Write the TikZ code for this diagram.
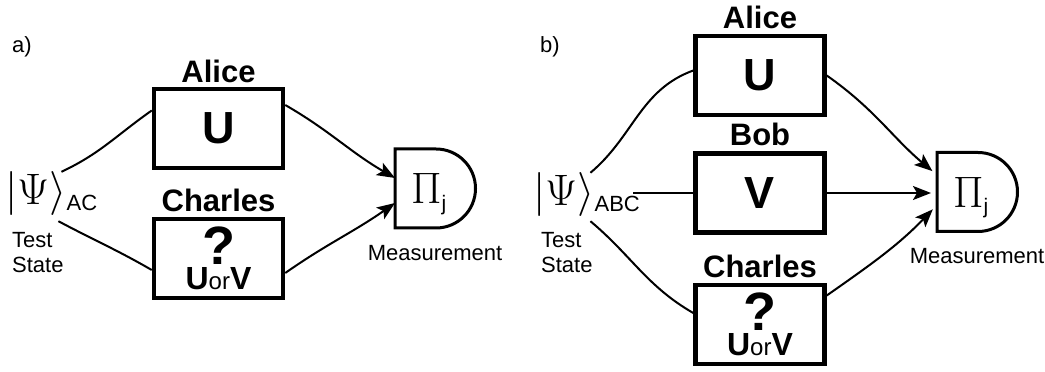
\RequirePackage{fix-cm}
\documentclass[tikz,border=0pt]{standalone}
\usepackage{amsmath}
\usepackage{fontspec}
\setsansfont{Liberation Sans}
\renewcommand{\familydefault}{\sfdefault}
\usetikzlibrary{arrows.meta,positioning,calc}

\begin{document}
\begin{tikzpicture}[x=1pt,y=1pt,
	party/.style={draw,line width=4.5pt,minimum width=129pt,minimum height=79pt,inner sep=0pt,font=\bfseries\fontsize{45}{45}\selectfont},
	unknown/.style={party,align=center,font=\bfseries\fontsize{32}{25}\selectfont},
	who/.style={inner sep=0pt,font=\bfseries\fontsize{31}{31}\selectfont},
	detector/.style={minimum width=80pt,minimum height=79pt,inner sep=0pt,outer sep=0pt,text depth=0pt,font=\fontsize{44}{44}\selectfont},
	ket/.style={inner sep=0pt,font=\fontsize{44}{44}\selectfont},
	small/.style={inner sep=0pt,font=\fontsize{22}{25}\selectfont},
	wire/.style={line width=2pt},
	feed/.style={wire,-{Stealth[length=18pt,width=14pt,inset=4pt]}}]
\useasboundingbox (0,0) rectangle (1045,372);
% a) two parties
\node[small,anchor=base west] (tagA) at (12,319) {a)};
\node[party] (alA) at (218.5,243.5) {U};
\node[who,above=4pt of alA] (nameAlA) {Alice};
\node[unknown] (chA) at (218.5,113.5) {{\fontsize{54}{54}\selectfont ?}\\U{\mdseries\fontsize{24}{24}\selectfont or}V};
\node[who,above=5pt of chA] (nameChA) {Charles};
\node[ket,anchor=base west] (ketA) at (5,167) {$|\Psi\rangle$};
\node[small,anchor=base west] (subA) at ([yshift=-6pt]ketA.base east) {AC};
\node[small,anchor=north west,align=left] (testA) at (12,140) {Test\\State};
\node[detector] (detA) at (435,183.5) {$\Pi_{\mbox{\fontsize{21}{21}\selectfont j}}$\kern12pt};
\node[small,below=17pt of detA] (measA) {Measurement};
\draw[line width=3pt] (detA.north west) -- ++(41,0) arc[start angle=90,end angle=-90,radius=39.5] -- (detA.south west) -- cycle;
\draw[wire] ([xshift=-5pt]ketA.north east) to[out=25,in=215] ([yshift=18pt]alA.west);
\draw[wire] ([xshift=-8pt,yshift=-5pt]ketA.south east) to[out=-28,in=150] ([yshift=-11.5pt]chA.west);
\draw[feed] ([yshift=23.5pt]alA.east) to[out=-30,in=150] ([yshift=10.5pt]detA.west);
\draw[feed] ([yshift=-14.5pt]chA.east) to[out=35,in=215] ([yshift=-14.5pt]detA.west);
% b) three parties
\node[small,anchor=base west] (tagB) at (540,319) {b)};
\node[party] (alB) at (760,296.5) {U};
\node[who,above=5pt of alB] (nameAlB) {Alice};
\node[party] (boB) at (760,179) {V};
\node[who,above=5pt of boB] (nameBoB) {Bob};
\node[unknown] (chB) at (760,47.5) {{\fontsize{54}{54}\selectfont ?}\\U{\mdseries\fontsize{24}{24}\selectfont or}V};
\node[who,above=5pt of chB] (nameChB) {Charles};
\node[ket,anchor=base west] (ketB) at (533,166) {$|\Psi\rangle$};
\node[small,anchor=base west] (subB) at ([yshift=-6pt]ketB.base east) {ABC};
\node[small,anchor=north west,align=left] (testB) at (541,140) {Test\\State};
\node[detector] (detB) at (977,180) {$\Pi_{\mbox{\fontsize{21}{21}\selectfont j}}$\kern12pt};
\node[small,below=17pt of detB] (measB) {Measurement};
\draw[line width=3pt] (detB.north west) -- ++(41,0) arc[start angle=90,end angle=-90,radius=39.5] -- (detB.south west) -- cycle;
\draw[wire] ([xshift=-4pt]ketB.north east) to[out=40,in=200] ([yshift=5pt]alB.west);
\draw[wire] ($(subB.east |- boB.west)+(-7,0)$) -- (boB.west);
\draw[wire] ([xshift=-4pt,yshift=-4pt]ketB.south east) to[out=-40,in=150] ([yshift=11.5pt]chB.west);
\draw[feed,shorten >=6pt] (alB.east) to[out=-35,in=140] ([yshift=17pt]detB.west);
\draw[feed,shorten >=6pt] (boB.east) -- (detB.west |- boB.east);
\draw[feed,shorten >=6pt] ([yshift=29pt]chB.east) to[out=35,in=-134] ([yshift=-13pt]detB.west);
\end{tikzpicture}
\end{document}
